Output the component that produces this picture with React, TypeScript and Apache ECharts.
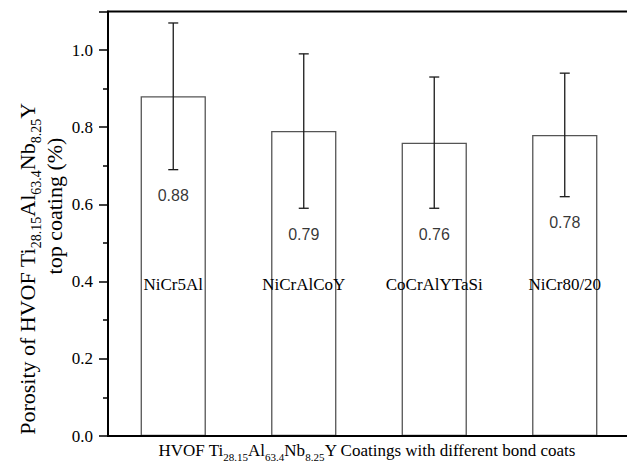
import React, { useEffect, useRef } from "react";
import * as echarts from "echarts";

const categories = ["NiCr5Al", "NiCrAlCoY", "CoCrAlYTaSi", "NiCr80/20"];
const porosity = [0.88, 0.79, 0.76, 0.78];
const errLow = [0.69, 0.59, 0.59, 0.62];
const errHigh = [1.07, 0.99, 0.93, 0.94];
const yMin = 0;
const yMax = 1.1;
const yStep = 0.2;

const SERIF = "'Liberation Serif', 'Times New Roman', serif";
const SANS = "'Liberation Sans', Arial, sans-serif";

function richStyles(main: number, sub: number, pad: number) {
  return {
    n: { fontSize: main, fontFamily: SERIF, color: "#000", padding: [0, 0, pad, 0], verticalAlign: "bottom" },
    s: { fontSize: sub, fontFamily: SERIF, color: "#000", verticalAlign: "bottom" },
  };
}

export default function App() {
  const ref = useRef<HTMLDivElement>(null);
  useEffect(() => {
    if (!ref.current) return;
    const chart = echarts.init(ref.current, null, { renderer: "svg" });
    const option: any = {
      animation: false,
      backgroundColor: "#fff",
      textStyle: { fontFamily: SERIF },
      grid: {
        left: 108,
        right: -3,
        top: 11.4,
        bottom: 28,
        show: true,
        borderColor: "#000",
        borderWidth: 2,
        containLabel: false,
        outerBoundsMode: "none",
      },
      xAxis: {
        type: "category",
        data: categories,
        z: 10,
        axisTick: { show: false },
        axisLine: { lineStyle: { color: "#000", width: 2 } },
        axisLabel: {
          inside: true,
          margin: 143,
          fontSize: 17,
          fontFamily: SERIF,
          color: "#000",
        },
        splitLine: { show: false },
      },
      yAxis: {
        type: "value",
        min: yMin,
        max: yMax,
        interval: yStep,
        z: 10,
        axisLine: { show: true, lineStyle: { color: "#000", width: 2 } },
        axisTick: { show: true, length: 9, lineStyle: { color: "#000", width: 1.5 } },
        minorTick: { show: true, splitNumber: 2, length: 5, lineStyle: { color: "#000", width: 1.5 } },
        splitLine: { show: false },
        axisLabel: {
          margin: 15,
          fontSize: 17,
          fontFamily: "'Liberation Serif', serif",
          color: "#000",
          formatter: (v: number) =>
            Math.abs(v / yStep - Math.round(v / yStep)) < 1e-6 ? v.toFixed(1) : "",
        },
      },
      series: [
        {
          type: "bar",
          data: porosity,
          barWidth: "50%",
          itemStyle: { color: "#fff", borderColor: "#555", borderWidth: 1.3 },
          z: 2,
        },
        {
          type: "custom",
          data: categories.map((_, i) => [i, errLow[i], errHigh[i]]),
          z: 3,
          renderItem: (params: any, api: any) => {
            const x = api.value(0);
            const lo = api.coord([x, api.value(1)]);
            const hi = api.coord([x, api.value(2)]);
            const cap = 5;
            const style = { stroke: "#1a1a1a", lineWidth: 1.3 };
            return {
              type: "group",
              children: [
                { type: "line", shape: { x1: lo[0], y1: lo[1], x2: hi[0], y2: hi[1] }, style },
                { type: "line", shape: { x1: hi[0] - cap, y1: hi[1], x2: hi[0] + cap, y2: hi[1] }, style },
                { type: "line", shape: { x1: lo[0] - cap, y1: lo[1], x2: lo[0] + cap, y2: lo[1] }, style },
              ],
            };
          },
        },
        {
          type: "scatter",
          data: categories.map((_, i) => [i, errLow[i]]),
          symbolSize: 2,
          itemStyle: { color: "rgba(0,0,0,0)" },
          z: 4,
          label: {
            show: true,
            position: "bottom",
            distance: 17,
            fontSize: 16,
            fontFamily: SANS,
            color: "#000",
            formatter: (p: any) => porosity[p.dataIndex].toFixed(2),
          },
        },
      ],
      graphic: [
        {
          type: "text",
          x: 30,
          y: 269,
          rotation: Math.PI / 2,
          style: {
            text: "{n|Porosity of HVOF Ti}{s|28.15}{n|Al}{s|63.4}{n|Nb}{s|8.25}{n|Y}",
            rich: richStyles(22, 14, 5),
            align: "center",
            verticalAlign: "middle",
          },
        },
        {
          type: "text",
          x: 57,
          y: 206,
          rotation: Math.PI / 2,
          style: {
            text: "{n|top coating (%)}",
            rich: richStyles(22, 14, 5),
            align: "center",
            verticalAlign: "middle",
          },
        },
        {
          type: "text",
          x: 367,
          y: 452,
          style: {
            text: "{n|HVOF Ti}{s|28.15}{n|Al}{s|63.4}{n|Nb}{s|8.25}{n|Y Coatings with different bond coats}",
            rich: {
              n: { fontSize: 17, fontFamily: SERIF, color: "#000", padding: [0, 0, 3, 0], verticalAlign: "bottom" },
              s: { fontSize: 11, fontFamily: SERIF, color: "#000", verticalAlign: "bottom" },
            },
            align: "center",
            verticalAlign: "middle",
          },
        },
      ],
    };
    chart.setOption(option);
    return () => chart.dispose();
  }, []);
  return (
    <div
      ref={ref}
      style={{ position: "absolute", left: 0, top: 0, width: 627, height: 464 }}
    />
  );
}
